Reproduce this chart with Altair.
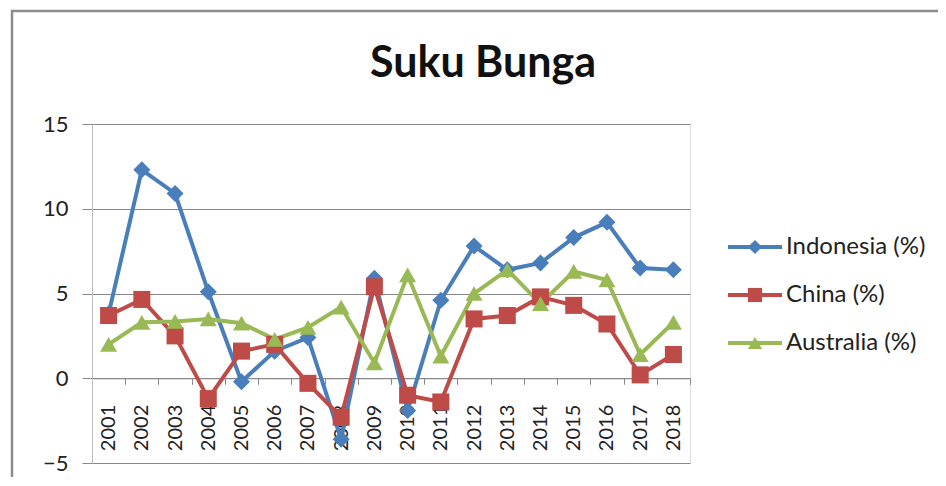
import altair as alt
import pandas as pd

years = [str(y) for y in range(2001, 2019)]
indonesia = [3.8, 12.3, 10.9, 5.1, -0.2, 1.6, 2.4, -3.6, 5.9, -1.9, 4.6, 7.8, 6.4, 6.8, 8.3, 9.2, 6.5, 6.4]
china = [3.7, 4.65, 2.5, -1.2, 1.6, 2.0, -0.3, -2.3, 5.4, -1.0, -1.4, 3.5, 3.7, 4.8, 4.3, 3.2, 0.2, 1.4]
australia = [2.0, 3.3, 3.35, 3.5, 3.25, 2.3, 3.0, 4.2, 0.9, 6.1, 1.3, 5.0, 6.4, 4.4, 6.3, 5.8, 1.4, 3.3]

series_names = ["Indonesia (%)", "China (%)", "Australia (%)"]
colors = ["#4A7EBB", "#BE4B48", "#98B954"]
shapes = ["diamond", "square", "triangle-up"]

rows = []
for name, vals in zip(series_names, [indonesia, china, australia]):
    for y, v in zip(years, vals):
        rows.append({"year": y, "value": v, "series": name})
df = pd.DataFrame(rows)
legend_df = pd.DataFrame({"series": series_names})

W, H = 598, 339
FONT = "Lato"

color_scale = alt.Scale(domain=series_names, range=colors)
shape_scale = alt.Scale(domain=series_names, range=shapes)

x_axis = alt.Axis(
    orient="bottom",
    offset=-(H * 5 / 20),
    labelAngle=270,
    labelFont=FONT,
    labelFontSize=20,
    labelColor="#222222",
    labelPadding=20,
    tickBand="extent",
    tickSize=6,
    tickColor="#888888",
    domainColor="#888888",
    domainWidth=1,
    grid=False,
)
y_axis = alt.Axis(
    values=[-5, 0, 5, 10, 15],
    labelFont=FONT,
    labelFontSize=22,
    labelColor="#222222",
    labelPadding=14,
    tickSize=10,
    tickColor="#888888",
    domainColor="#BBBBBB",
    gridColor="#888888",
    gridWidth=1,
    title=None,
)

base = alt.Chart(df).encode(
    x=alt.X("year:O", title=None, scale=alt.Scale(paddingInner=0, paddingOuter=0), axis=x_axis),
    y=alt.Y("value:Q", scale=alt.Scale(domain=[-5, 15], nice=False), axis=y_axis),
)

lines = base.mark_line(strokeWidth=4).encode(
    color=alt.Color("series:N", scale=color_scale, legend=None),
    detail="series:N",
)

points = base.mark_point(filled=True, opacity=1, size=290).encode(
    color=alt.Color("series:N", scale=color_scale, legend=None),
    shape=alt.Shape("series:N", scale=shape_scale, legend=None),
)

border = alt.Chart(pd.DataFrame({"a": [0]})).mark_rect(
    fill=None, stroke="#8C8C8C", strokeWidth=2.5
).encode(
    x=alt.value(-80), x2=alt.value(W + 400),
    y=alt.value(-113), y2=alt.value(H + 200),
)

# legend drawn from data through its own scales
lx = alt.Scale(domain=[0, 1], range=[636, 690])
ly = alt.Scale(type="point", domain=series_names, range=[123, 219], padding=0)
lbase = alt.Chart(legend_df).encode(
    y=alt.Y("series:N", scale=ly, axis=None),
    color=alt.Color("series:N", scale=color_scale, legend=None),
)
leg_line = lbase.mark_rule(strokeWidth=4).encode(
    x=alt.X(datum=0, scale=lx, axis=None),
    x2=alt.X2(datum=1),
)
leg_point = lbase.mark_point(filled=True, opacity=1, size=200).encode(
    x=alt.X(datum=0.5, scale=lx, axis=None),
    shape=alt.Shape("series:N", scale=shape_scale, legend=None),
)
leg_text = alt.Chart(legend_df).mark_text(
    align="left", baseline="middle", dx=4, font=FONT, fontSize=24, color="#222222"
).encode(
    x=alt.X(datum=1, scale=lx, axis=None),
    y=alt.Y("series:N", scale=ly, axis=None),
    text="series:N",
)
legend = alt.layer(leg_line, leg_point, leg_text)

main = alt.layer(border, lines, points)

chart = alt.layer(main, legend).resolve_scale(x="independent", y="independent").properties(
    width=W,
    height=H,
    autosize=alt.AutoSizeParams(type="none"),
    padding={"left": 84, "top": 116, "right": 248, "bottom": 14},
    title=alt.TitleParams(
        "Suku Bunga",
        font=FONT,
        fontSize=43,
        fontWeight="bold",
        color="#111111",
        anchor="middle",
        frame="group",
        dx=92,
        offset=0,
        dy=76,
    ),
).configure_view(stroke=None).configure(background="white")

chart.save("out.html", embed_options={"renderer": "svg", "actions": False})
